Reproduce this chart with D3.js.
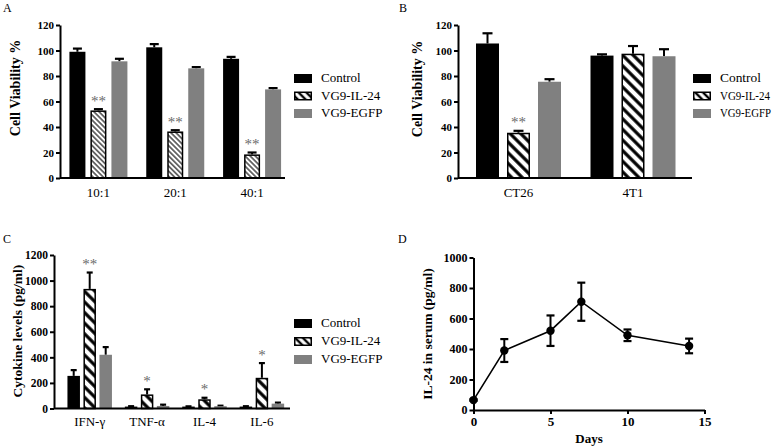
<!DOCTYPE html>
<html><head><meta charset="utf-8">
<script src="https://cdn.jsdelivr.net/npm/d3@7"></script>
<style>body{margin:0;background:#fff}svg{display:block}svg text{font-family:"Liberation Serif",serif}</style>
</head><body>
<svg id="c" width="780" height="447" font-family="Liberation Serif"></svg>
<script>
// ---------- DATA ----------
const seriesNames = ["Control", "VG9-IL-24", "VG9-EGFP"];

const catsA = ["10:1", "20:1", "40:1"];
const ctrlA = [99, 102.5, 93.5];
const ctrlAErr = [2.5, 2.5, 1.5];
const il24A = [53, 36.5, 18.5];
const il24AErr = [1, 1, 1.5];
const egfpA = [91.5, 86, 69.5];
const egfpAErr = [2, 1, 1];
const sigA = ["**", "**", "**"];
const ticksA = [0, 20, 40, 60, 80, 100, 120];

const catsB = ["CT26", "4T1"];
const ctrlB = [105.5, 96];
const ctrlBErr = [8, 1];
const il24B = [35.5, 97.5];
const il24BErr = [1.5, 6];
const egfpB = [75.5, 95.5];
const egfpBErr = [2, 5.5];
const sigB = ["**", ""];
const ticksB = [0, 20, 40, 60, 80, 100, 120];

const catsC = ["IFN-γ", "TNF-α", "IL-4", "IL-6"];
const ctrlC = [255, 15, 15, 15];
const ctrlCErr = [45, 3, 2, 3];
const il24C = [935, 110, 72, 240];
const il24CErr = [128, 40, 12, 115];
const egfpC = [420, 20, 18, 38];
const egfpCErr = [60, 10, 4, 8];
const sigC = ["**", "*", "*", "*"];
const ticksC = [0, 200, 400, 600, 800, 1000, 1200];

const daysD = [0, 2, 5, 7, 10, 14];
const il24D = [65, 390, 520, 710, 490, 420];
const il24DErr = [5, 75, 100, 125, 38, 48];
const xTicksD = [0, 5, 10, 15];
const yTicksD = [0, 200, 400, 600, 800, 1000];

// ---------- DRAW ----------
const FONT = "Liberation Serif";
const svg = d3.select("#c");
const defs = svg.append("defs");
function hatch(id, period, sw) {
  const p = defs.append("pattern").attr("id", id).attr("patternUnits", "userSpaceOnUse")
    .attr("width", period).attr("height", period).attr("patternTransform", "rotate(-45)");
  p.append("rect").attr("width", period).attr("height", period).attr("fill", "#fff");
  p.append("line").attr("x1", period / 2).attr("x2", period / 2).attr("y1", 0).attr("y2", period)
    .attr("stroke", "#000").attr("stroke-width", sw);
}
hatch("hThin", 3.6, 1.1);
hatch("hThick", 7.5, 3.2);
hatch("hLeg", 5.5, 2.4);

const black = "#000", gray = "#808080";

function txt(sel) {
  return sel.append("text").attr("font-family", FONT).attr("fill", "#000");
}

function panelLabel(t, x, y) {
  txt(svg).attr("x", x).attr("y", y).attr("font-size", 12).text(t);
}

function yAxis(g, y, x0, ticks, fs) {
  const ax = g.append("g").attr("transform", `translate(${x0},0)`)
    .call(d3.axisLeft(y).tickValues(ticks).tickFormat(d3.format("d"))
      .tickSize(4).tickSizeOuter(0).tickPadding(2));
  ax.attr("font-family", FONT);
  ax.select(".domain").attr("stroke-width", 2);
  ax.selectAll(".tick line").attr("stroke-width", 2);
  ax.selectAll("text").attr("font-size", fs).attr("font-weight", "bold")
    .attr("font-family", FONT).attr("fill", "#000");
  return ax;
}

function yTitle(text, x, yc, fs) {
  txt(svg).attr("transform", `translate(${x},${yc}) rotate(-90)`)
    .attr("text-anchor", "middle").attr("font-size", fs).attr("font-weight", "bold").text(text);
}

function legend(x, y0, gap, lens) {
  const fills = [black, "url(#hLeg)", gray];
  seriesNames.forEach((n, i) => {
    const yy = y0 + i * gap;
    svg.append("rect").attr("x", x + (i === 1 ? 0.75 : 0)).attr("y", yy + (i === 1 ? 0.75 : 0))
      .attr("width", i === 1 ? 16.5 : 18).attr("height", i === 1 ? 7.5 : 9)
      .attr("fill", fills[i]).attr("stroke", i === 1 ? "#000" : "none").attr("stroke-width", 1.5);
    const t = txt(svg).attr("x", x + 27).attr("y", yy + 8).attr("font-size", 13).text(n);
    if (lens) t.attr("textLength", lens[i]).attr("lengthAdjust", "spacingAndGlyphs");
  });
}

function barPanel(o) {
  const g = svg.append("g");
  const y = d3.scaleLinear().domain(o.ydom).range([o.y0, o.y1]);
  const x = d3.scaleBand().domain(o.cats).range(o.xr).padding(0);
  const xi = d3.scaleBand().domain(seriesNames).range([-o.inner / 2, o.inner / 2])
    .paddingInner(o.pin).paddingOuter(0);
  const series = [
    { name: seriesNames[0], v: o.ctrl, e: o.ctrlErr, fill: black, stroke: "none" },
    { name: seriesNames[1], v: o.il24, e: o.il24Err, fill: `url(#${o.pat})`, stroke: "#000" },
    { name: seriesNames[2], v: o.egfp, e: o.egfpErr, fill: gray, stroke: "none" }
  ];
  const bw = xi.bandwidth();
  series.forEach(s => {
    o.cats.forEach((c, i) => {
      const cx = x(c) + x.bandwidth() / 2 + xi(s.name);
      const top = y(s.v[i]);
      const et = y(s.v[i] + s.e[i]);
      const mid = cx + bw / 2;
      g.append("line").attr("x1", mid).attr("x2", mid).attr("y1", top).attr("y2", et)
        .attr("stroke", "#000").attr("stroke-width", 2);
      g.append("line").attr("x1", mid - o.cap / 2).attr("x2", mid + o.cap / 2).attr("y1", et).attr("y2", et)
        .attr("stroke", "#000").attr("stroke-width", 2.2);
      const hs = s.stroke !== "none";
      g.append("rect").attr("x", cx + (hs ? 0.75 : 0)).attr("y", top + (hs ? 0.75 : 0))
        .attr("width", bw - (hs ? 1.5 : 0)).attr("height", o.y0 - top - (hs ? 0.75 : 0))
        .attr("fill", s.fill).attr("stroke", s.stroke).attr("stroke-width", 1.5);
      if (s.name === seriesNames[1] && o.sig[i]) {
        txt(g).attr("x", mid).attr("y", et - 3.5).attr("text-anchor", "middle")
          .attr("font-size", 15).attr("fill", "#6a6a6a").text(o.sig[i]);
      }
    });
  });
  yAxis(g, y, o.xr0, o.ticks, o.tfs);
  g.append("line").attr("x1", o.xr0).attr("x2", o.xend).attr("y1", o.y0).attr("y2", o.y0)
    .attr("stroke", "#000").attr("stroke-width", 2);
  o.cats.forEach(c => {
    txt(g).attr("x", x(c) + x.bandwidth() / 2).attr("y", o.y0 + o.lblDy)
      .attr("text-anchor", "middle").attr("font-size", 13).text(c);
  });
}

// Panel A
panelLabel("A", 3, 12);
barPanel({ cats: catsA, ctrl: ctrlA, ctrlErr: ctrlAErr, il24: il24A, il24Err: il24AErr,
  egfp: egfpA, egfpErr: egfpAErr, sig: sigA, ticks: ticksA, ydom: [0, 120],
  y0: 178, y1: 25, xr: [60, 290.5], xr0: 60, xend: 285, inner: 58, pin: 5 / 21,
  pat: "hThin", tfs: 11, lblDy: 19, cap: 9 });
yTitle("Cell Viability %", 20, 88, 14);
legend(294, 74, 17.5);

// Panel B
panelLabel("B", 399, 12);
barPanel({ cats: catsB, ctrl: ctrlB, ctrlErr: ctrlBErr, il24: il24B, il24Err: il24BErr,
  egfp: egfpB, egfpErr: egfpBErr, sig: sigB, ticks: ticksB, ydom: [0, 120],
  y0: 178, y1: 25, xr: [461.25, 690.25], xr0: 458, xend: 692, inner: 85, pin: 8 / 31,
  pat: "hThick", tfs: 11, lblDy: 19, cap: 10 });
yTitle("Cell Viability %", 422, 89, 14);
legend(693, 74, 17.5, [41, 50, 51]);

// Panel C
panelLabel("C", 3, 243);
barPanel({ cats: catsC, ctrl: ctrlC, ctrlErr: ctrlCErr, il24: il24C, il24Err: il24CErr,
  egfp: egfpC, egfpErr: egfpCErr, sig: sigC, ticks: ticksC, ydom: [0, 1200],
  y0: 408.5, y1: 255, xr: [61, 290.6], xr0: 54, xend: 290, inner: 44.5, pin: 3.5 / 16,
  pat: "hThick", tfs: 11.5, lblDy: 17, cap: 6 });
yTitle("Cytokine levels (pg/ml)", 22, 331, 13.5);
legend(294, 319, 18);

// Panel D
panelLabel("D", 398, 243);
(function () {
  const g = svg.append("g");
  const x = d3.scaleLinear().domain([0, 15]).range([473.5, 704.5]);
  const y = d3.scaleLinear().domain([0, 1000]).range([410, 257.5]);
  yAxis(g, y, 473.5, yTicksD, 12);
  const xa = g.append("g").attr("transform", "translate(0,410)")
    .call(d3.axisBottom(x).tickValues(xTicksD).tickSize(4).tickSizeOuter(0).tickPadding(3));
  xa.attr("font-family", FONT);
  xa.select(".domain").attr("stroke-width", 2);
  xa.selectAll(".tick line").attr("stroke-width", 2);
  xa.selectAll("text").attr("font-size", 13).attr("font-weight", "bold")
    .attr("font-family", FONT).attr("fill", "#000");
  const line = d3.line().x((d, i) => x(daysD[i])).y(d => y(d));
  g.append("path").datum(il24D).attr("d", line).attr("fill", "none")
    .attr("stroke", "#000").attr("stroke-width", 1.6);
  il24D.forEach((v, i) => {
    const cx = x(daysD[i]);
    const lo = y(v - il24DErr[i]), hi = y(v + il24DErr[i]);
    g.append("line").attr("x1", cx).attr("x2", cx).attr("y1", lo).attr("y2", hi)
      .attr("stroke", "#000").attr("stroke-width", 2);
    [lo, hi].forEach(yy => g.append("line").attr("x1", cx - 4).attr("x2", cx + 4)
      .attr("y1", yy).attr("y2", yy).attr("stroke", "#000").attr("stroke-width", 2.2));
    g.append("circle").attr("cx", cx).attr("cy", y(v)).attr("r", 4.2).attr("fill", "#000");
  });
  txt(svg).attr("x", 589).attr("y", 443).attr("text-anchor", "middle")
    .attr("font-size", 13).attr("font-weight", "bold").text("Days");
  yTitle("IL-24 in serum (pg/ml)", 432, 334, 13.5);
})();
</script>
</body></html>
